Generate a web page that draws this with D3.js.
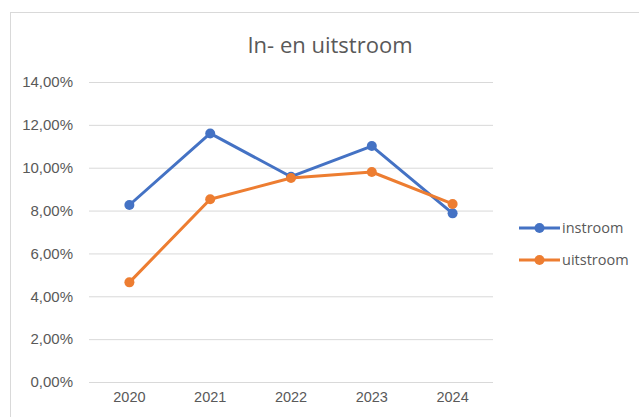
<!DOCTYPE html>
<html>
<head>
<meta charset="utf-8">
<script src="https://cdn.jsdelivr.net/npm/d3@7"></script>
<style>
  body { margin: 0; background: #fff; }
  svg { display: block; font-family: "Open Sans", "Liberation Sans", sans-serif; }
</style>
</head>
<body>
<svg id="chart" width="639" height="417"></svg>
<script>
// data
const years = ['2020', '2021', '2022', '2023', '2024'];
const instroom = [0.0826, 0.1160, 0.0958, 0.1101, 0.0787];
const uitstroom = [0.0465, 0.0853, 0.0952, 0.0980, 0.0831];
const yTicks = [0, 0.02, 0.04, 0.06, 0.08, 0.10, 0.12, 0.14];

const series = [
    { name: 'instroom', values: instroom, color: '#4472C4' },
    { name: 'uitstroom', values: uitstroom, color: '#ED7D31' }
];

const svg = d3.select('#chart');
const margin = { top: 82, left: 89, right: 146, bottom: 35 };
const width = +svg.attr('width');
const height = +svg.attr('height');

// chart border
svg.append('rect')
    .attr('x', 10.5).attr('y', 12.5)
    .attr('width', 640).attr('height', 420)
    .attr('fill', 'none')
    .attr('stroke', '#d9d9d9');

svg.append('text')
    .attr('x', 330).attr('y', 53)
    .attr('text-anchor', 'middle')
    .attr('fill', '#595959')
    .style('font-size', '22px')
    .text('In- en uitstroom');

const x = d3.scaleBand()
    .domain(years)
    .range([margin.left, width - margin.right]);

const y = d3.scaleLinear()
    .domain([0, 0.14])
    .range([height - margin.bottom, margin.top]);

const fmt = v => d3.format('.2f')(v * 100).replace('.', ',') + '%';

// gridlines + y labels
const yAxis = svg.append('g')
    .attr('transform', `translate(${margin.left},0)`)
    .call(d3.axisLeft(y).tickValues(yTicks).tickFormat(fmt)
        .tickSize(-(width - margin.left - margin.right)).tickPadding(16));
yAxis.select('.domain').remove();
yAxis.selectAll('line').attr('stroke', '#d9d9d9');
yAxis.selectAll('text').attr('fill', '#595959').style('font-size', '15px');

// x labels
const xAxis = svg.append('g')
    .attr('transform', `translate(0,${height - margin.bottom})`)
    .call(d3.axisBottom(x).tickSize(0).tickPadding(10));
xAxis.select('.domain').remove();
xAxis.selectAll('text').attr('fill', '#595959').style('font-size', '14.5px');

const line = d3.line()
    .x((d, i) => x(years[i]) + x.bandwidth() / 2)
    .y(d => y(d));

series.forEach(s => {
    svg.append('path')
        .datum(s.values)
        .attr('fill', 'none')
        .attr('stroke', s.color)
        .attr('stroke-width', 3)
        .attr('stroke-linejoin', 'round')
        .attr('d', line);

    svg.selectAll(null)
        .data(s.values)
        .join('circle')
        .attr('cx', (d, i) => x(years[i]) + x.bandwidth() / 2)
        .attr('cy', d => y(d))
        .attr('r', 5)
        .attr('fill', s.color);
});

// legend
const legend = svg.append('g').attr('transform', 'translate(519,228)');
series.forEach((s, i) => {
    const g = legend.append('g').attr('transform', `translate(0,${i * 32})`);
    g.append('line')
        .attr('x1', 0).attr('x2', 41)
        .attr('stroke', s.color).attr('stroke-width', 3);
    g.append('circle').attr('cx', 20.5).attr('r', 5).attr('fill', s.color);
    g.append('text')
        .attr('x', 43).attr('dy', '0.35em')
        .attr('fill', '#595959')
        .style('font-size', '14.5px')
        .text(s.name);
});
</script>
</body>
</html>
